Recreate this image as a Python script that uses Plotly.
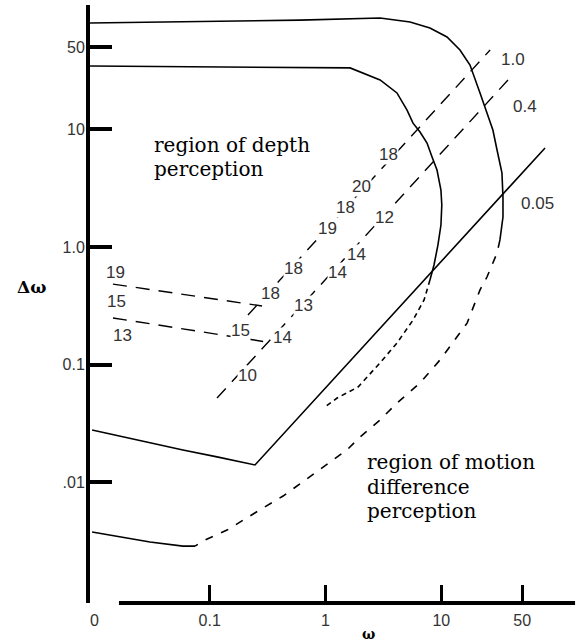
import numpy as np
import plotly.graph_objects as go

# ---------------- data (omega, delta-omega) ----------------
outer_x = [0.00925, 0.0522, 0.603, 2.96, 5.37, 7.98, 11.2, 14.5, 17.7, 21.6, 23.8, 27.9, 30.3, 33.4, 34.1, 34.1, 32.1]
outer_y = [80.2, 81.7, 84.9, 88.3, 81.7, 72.8, 61.0, 47.3, 35.2, 20.4, 15.5, 9.89, 6.68, 4.27, 2.67, 1.80, 1.15]

outer_dash_x = [32.1, 30.3, 24.8, 21.6, 16.7, 12.6, 9.75, 6.55, 4.14, 2.96, 1.99, 1.53, 1.09, 0.665, 0.430, 0.288, 0.194, 0.141, 0.0910, 0.0746]
outer_dash_y = [1.15, 0.891, 0.557, 0.433, 0.226, 0.153, 0.110, 0.0700, 0.0473, 0.0340, 0.0244, 0.0189, 0.0149, 0.0105, 0.00767, 0.00607, 0.00480, 0.00394, 0.00324, 0.00288]

bottom_x = [0.00964, 0.0305, 0.0587, 0.0746]
bottom_y = [0.00379, 0.00312, 0.00288, 0.00288]

inner_x = [0.00925, 0.603, 1.63, 2.96, 4.14, 5.06, 5.70, 6.55, 7.53, 8.32, 9.18, 9.93, 10.1, 9.93, 9.35, 8.65, 7.98]
inner_y = [34.6, 33.9, 33.3, 26.3, 20.4, 14.6, 11.3, 9.51, 7.66, 5.83, 4.52, 3.05, 2.28, 1.54, 1.04, 0.705, 0.525]

inner_dash_x = [7.98, 7.10, 5.70, 4.14, 2.96, 1.91, 1.26, 0.991]
inner_dash_y = [0.525, 0.356, 0.240, 0.153, 0.104, 0.0647, 0.0522, 0.0438]

line005_x = [0.00964, 0.0305, 0.0587, 0.1156, 0.246, 78.7]
line005_y = [0.0279, 0.0217, 0.0189, 0.0165, 0.0141, 6.95]

line10_x = [0.214, 26.4]
line10_y = [0.265, 47.3]

line04_x = [0.1156, 37.7]
line04_y = [0.0522, 26.3]

upper_h_x = [0.0146, 0.283]
upper_h_y = [0.485, 0.316]

lower_h_x = [0.0146, 0.313]
lower_h_y = [0.250, 0.156]

# labels along the 1.0 line
lab10_text = ["18", "20", "18", "19", "18", "18"]
lab10_x = [3.53, 2.03, 1.50, 1.03, 0.524, 0.332]
lab10_y = [6.18, 3.30, 2.15, 1.45, 0.652, 0.407]

# labels along the 0.4 line
lab04_text = ["12", "14", "14", "13", "14", "10", "15"]
lab04_x = [3.20, 1.87, 1.28, 0.640, 0.421, 0.210, 0.186]
lab04_y = [1.77, 0.873, 0.603, 0.322, 0.169, 0.0818, 0.194]

# labels at the left ends
labL_text = ["19", "15", "13"]
labL_x = [0.0155, 0.0158, 0.0178]
labL_y = [0.614, 0.342, 0.179]

# series names
series_text = ["1.0", "0.4", "0.05"]
series_x = [41.6, 52.8, 68.4]
series_y = [38.9, 15.8, 2.34]

x_tickvals = [0.1, 1, 10, 50]
x_ticktext = ["0.1", "1", "10", "50"]
y_tickvals = [0.01, 0.1, 1, 10, 50]
y_ticktext = [".01", "0.1", "1.0", "10", "50"]

depth_text = ["region of depth", "perception"]
depth_x = 0.0318
depth_y = [7.36, 4.61]
motion_text = ["region of motion", "difference", "perception"]
motion_x = 2.19
motion_y = [0.0149, 0.00916, 0.00573]

# ---------------- figure ----------------
fig = go.Figure()

def add_line(x, y, dash="solid", width=1.6):
    fig.add_trace(go.Scatter(x=x, y=y, mode="lines",
                             line=dict(color="black", width=width, dash=dash),
                             hoverinfo="skip", showlegend=False))

add_line(outer_x, outer_y)
add_line(outer_dash_x, outer_dash_y, dash="8px,9px")
add_line(bottom_x, bottom_y)
add_line(inner_x, inner_y)
add_line(inner_dash_x, inner_dash_y, dash="5px,4px")
add_line(line005_x, line005_y)
add_line(line10_x, line10_y, dash="13px,9px", width=1.4)
add_line(line04_x, line04_y, dash="13px,9px", width=1.4)
add_line(upper_h_x, upper_h_y, dash="14px,9px", width=1.4)
add_line(lower_h_x, lower_h_y, dash="14px,9px", width=1.4)

num_font = dict(family="Liberation Sans", size=17, color="#333")
for texts, xs, ys, bg in [(lab10_text, lab10_x, lab10_y, "white"),
                          (lab04_text, lab04_x, lab04_y, "white"),
                          (labL_text, labL_x, labL_y, "rgba(0,0,0,0)"),
                          (series_text, series_x, series_y, "rgba(0,0,0,0)")]:
    for t, xv, yv in zip(texts, xs, ys):
        fig.add_annotation(x=np.log10(xv), y=np.log10(yv), xref="x", yref="y",
                           text=t, showarrow=False, font=num_font,
                           bgcolor=bg, borderpad=0)

text_font = dict(family="DejaVu Serif", size=20, color="black")
for t, yv in zip(depth_text, depth_y):
    fig.add_annotation(x=np.log10(depth_x), y=np.log10(yv), xref="x", yref="y",
                       text=t, showarrow=False, xanchor="left", font=text_font)
for t, yv in zip(motion_text, motion_y):
    fig.add_annotation(x=np.log10(motion_x), y=np.log10(yv), xref="x", yref="y",
                       text=t, showarrow=False, xanchor="left", font=text_font)

# axis titles and origin label
fig.add_annotation(x=-0.121, y=0.528, xref="paper", yref="paper", text="<b>\u0394\u03c9</b>",
                   xanchor="center", yanchor="middle",
                   showarrow=False, font=dict(family="DejaVu Serif", size=17, color="black"))
fig.add_annotation(x=0.571, y=-0.052, xref="paper", yref="paper", text="<b>\u03c9</b>",
                   xanchor="center", yanchor="middle",
                   showarrow=False, font=dict(family="DejaVu Serif", size=14, color="black"))
fig.add_annotation(x=0.010, y=-0.030, xref="paper", yref="paper", text="0",
                   xanchor="center", yanchor="middle",
                   showarrow=False, font=dict(family="Liberation Sans", size=16, color="#333"))

# x axis line (starts right of the y axis, as in the original)
fig.add_shape(type="line", xref="paper", yref="paper", x0=0.0595, x1=0.996, y0=0, y1=0,
              line=dict(color="black", width=4))

fig.update_xaxes(type="log", range=[-2.034, 2.172], showgrid=False, zeroline=False, showline=False,
                 tickvals=x_tickvals, ticktext=x_ticktext, ticks="inside", ticklen=18, tickwidth=3,
                 tickcolor="black", tickfont=dict(family="Liberation Sans", size=16, color="#333"),
                 ticklabelstandoff=6)
fig.update_yaxes(type="log", range=[-3.024, 2.057], showgrid=False, zeroline=False, showline=True,
                 linewidth=4, linecolor="black",
                 tickvals=y_tickvals, ticktext=y_ticktext, ticks="inside", ticklen=22, tickwidth=4,
                 tickcolor="black", tickfont=dict(family="Liberation Sans", size=16, color="#333"),
                 ticklabelstandoff=-2)

fig.update_layout(width=577, height=642, margin=dict(l=90, r=0, t=5, b=39),
                  plot_bgcolor="white", paper_bgcolor="white", showlegend=False)

fig.write_html("out.html", config={"displayModeBar": False},
               post_script="document.body.style.margin='0px';")
